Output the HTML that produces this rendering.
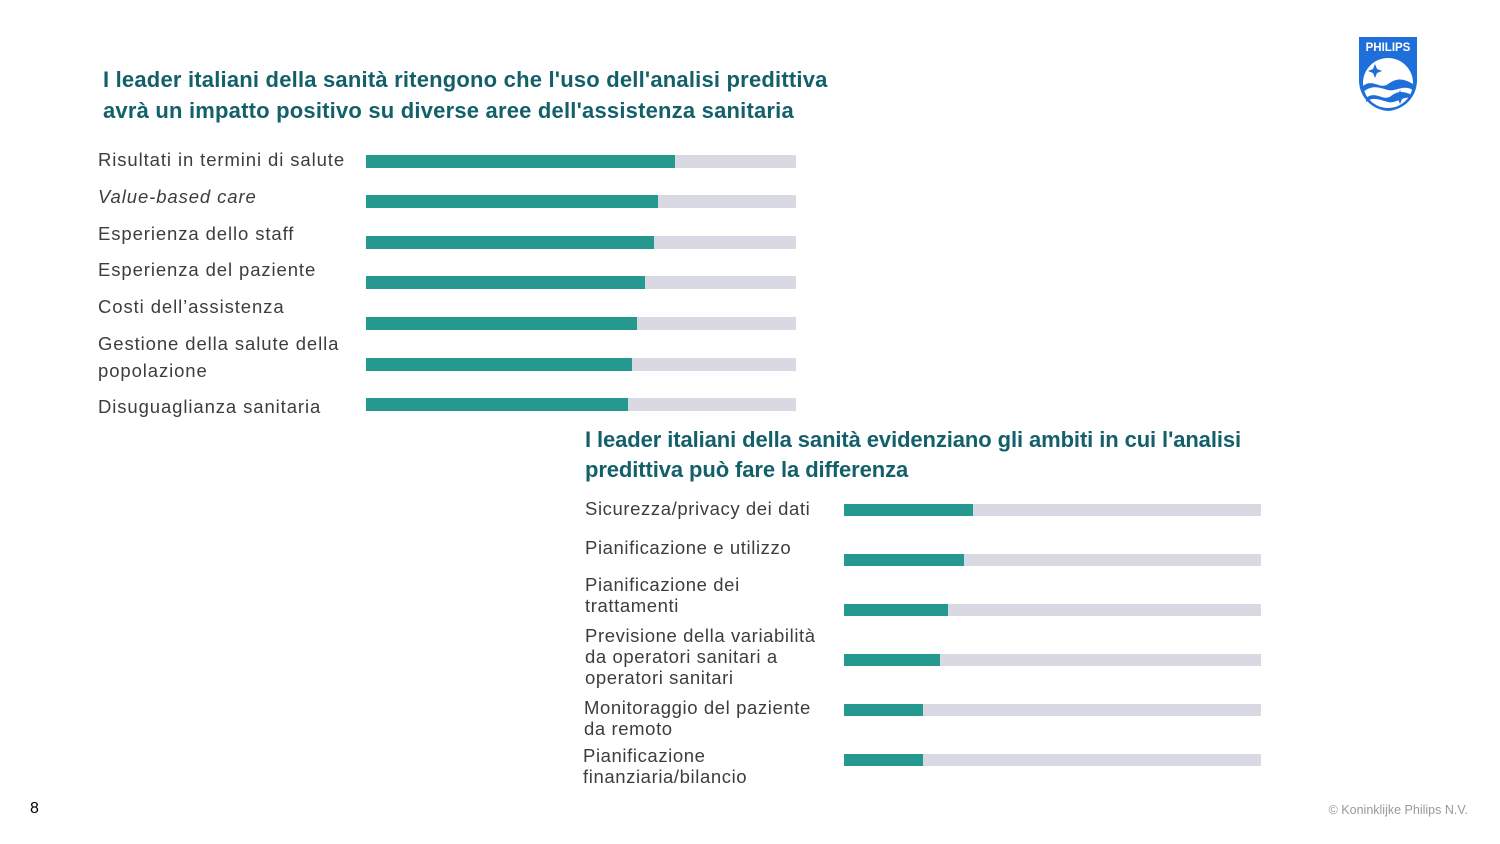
<!DOCTYPE html>
<html><head><meta charset="utf-8"><style>
body{margin:0;width:1500px;height:844px;background:#fff;position:relative;overflow:hidden;font-family:"Liberation Sans",sans-serif}
.t{position:absolute;color:#14606a;font-weight:bold;font-size:22px;line-height:31px;letter-spacing:0.2px}
.l{position:absolute;color:#3d3d3d;font-size:18.5px;line-height:21px;letter-spacing:0.9px}
.l2{letter-spacing:0.6px}
.b{position:absolute;background:#d9d9e3;height:13px}
.b i{position:absolute;left:0;top:0;bottom:0;background:#25998f}
</style></head><body>
<div class="t" style="left:103px;top:64px">I leader italiani della sanità ritengono che l'uso dell'analisi predittiva<br>avrà un impatto positivo su diverse aree dell'assistenza sanitaria</div>
<div class="l" style="left:98px;top:149px">Risultati in termini di salute</div>
<div class="l" style="left:98px;top:186px;font-style:italic">Value-based care</div>
<div class="l" style="left:98px;top:223px">Esperienza dello staff</div>
<div class="l" style="left:98px;top:259px">Esperienza del paziente</div>
<div class="l" style="left:98px;top:296px">Costi dell’assistenza</div>
<div class="l" style="left:98px;top:330px;line-height:27px">Gestione della salute della<br>popolazione</div>
<div class="l" style="left:98px;top:396px">Disuguaglianza sanitaria</div>
<div class="b" style="left:366px;width:430px;top:155px"><i style="width:309px"></i></div>
<div class="b" style="left:366px;width:430px;top:195px"><i style="width:292px"></i></div>
<div class="b" style="left:366px;width:430px;top:236px"><i style="width:288px"></i></div>
<div class="b" style="left:366px;width:430px;top:276px"><i style="width:279px"></i></div>
<div class="b" style="left:366px;width:430px;top:317px"><i style="width:271px"></i></div>
<div class="b" style="left:366px;width:430px;top:358px"><i style="width:266px"></i></div>
<div class="b" style="left:366px;width:430px;top:398px"><i style="width:262px"></i></div>
<div class="t" style="left:585px;top:425px;line-height:30px;letter-spacing:-0.1px">I leader italiani della sanità evidenziano gli ambiti in cui l'analisi<br>predittiva può fare la differenza</div>
<div class="l l2" style="left:585px;top:498px">Sicurezza/privacy dei dati</div>
<div class="l l2" style="left:585px;top:537px">Pianificazione e utilizzo</div>
<div class="l l2" style="left:585px;top:574px">Pianificazione dei<br>trattamenti</div>
<div class="l l2" style="left:585px;top:625px">Previsione della variabilità<br>da operatori sanitari a<br>operatori sanitari</div>
<div class="l l2" style="left:584px;top:697px">Monitoraggio del paziente<br>da remoto</div>
<div class="l l2" style="left:583px;top:745px">Pianificazione<br>finanziaria/bilancio</div>
<div class="b" style="left:844px;width:417px;top:504px;height:12px"><i style="width:129px"></i></div>
<div class="b" style="left:844px;width:417px;top:554px;height:12px"><i style="width:120px"></i></div>
<div class="b" style="left:844px;width:417px;top:604px;height:12px"><i style="width:104px"></i></div>
<div class="b" style="left:844px;width:417px;top:654px;height:12px"><i style="width:96px"></i></div>
<div class="b" style="left:844px;width:417px;top:704px;height:12px"><i style="width:79px"></i></div>
<div class="b" style="left:844px;width:417px;top:754px;height:12px"><i style="width:79px"></i></div>
<div style="position:absolute;left:30px;top:800px;font-size:16px;color:#000">8</div>
<div style="position:absolute;right:32px;top:803px;font-size:12.5px;color:#999">© Koninklijke Philips N.V.</div>
<svg style="position:absolute;left:1358px;top:36px" width="60" height="76" viewBox="0 0 60 76">
<path d="M1 1H59V44C59 62 45 74 30 75C15 74 1 62 1 44Z" fill="#1e6fd9"/>
<text x="30" y="15" font-family="Liberation Sans" font-weight="bold" font-size="11.5" fill="#fff" text-anchor="middle">PHILIPS</text>
<circle cx="30" cy="47" r="25" fill="#fff"/>
<path d="M5 50C15 42 22 54 30 48S45 42 55 48V54C45 48 38 56 30 54S15 48 5 56Z" fill="#1e6fd9"/>
<path d="M8 62C18 54 25 66 33 60S46 56 52 58V62C45 60 38 68 30 66S15 60 8 66Z" fill="#1e6fd9"/>
<path d="M17 28L19 33 24 35 19 37 17 42 15 37 10 35 15 33Z M42 54L44 59 49 61 44 63 42 68 40 63 35 61 40 59Z" fill="#1e6fd9"/>
</svg>
</body></html>
